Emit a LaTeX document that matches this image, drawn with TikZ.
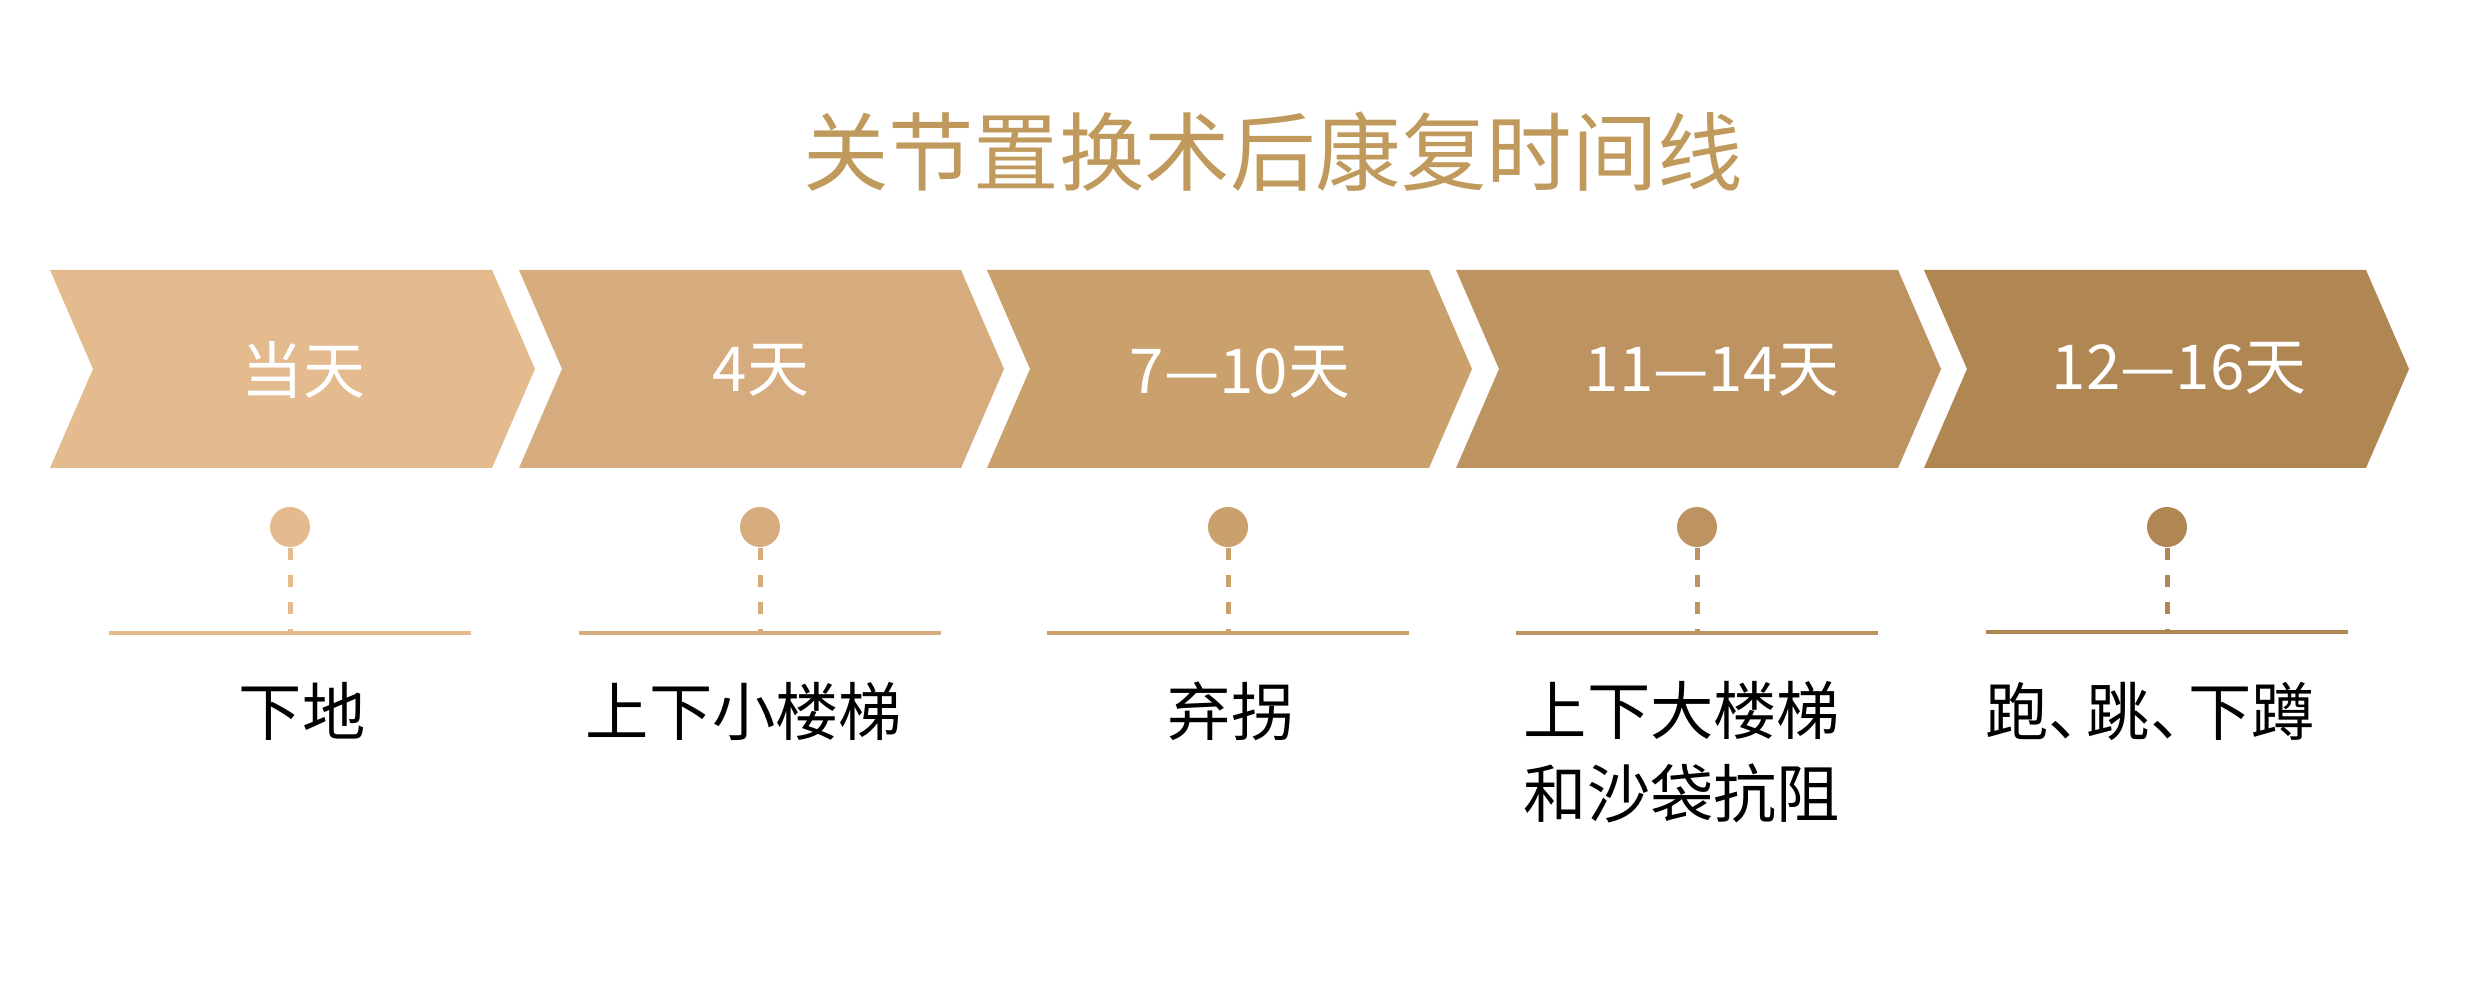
\documentclass[tikz,border=0pt]{standalone}
\usepackage{fontspec}
\setmainfont{Noto Sans CJK SC}
\definecolor{titlegold}{HTML}{C09A5C}
\definecolor{tone1}{HTML}{E4BB8E}
\definecolor{tone2}{HTML}{D6AC7E}
\definecolor{tone3}{HTML}{CAA06C}
\definecolor{tone4}{HTML}{BE9362}
\definecolor{tone5}{HTML}{B08653}
\begin{document}
\begin{tikzpicture}[x=0.01cm,y=-0.01cm,
  dot/.style={circle, fill, inner sep=0pt, minimum size=0.4cm},
  stem/.style={line width=0.05cm, dash pattern=on 0.12cm off 0.15cm},
  baseline/.style={line width=0.045cm},
  daylabel/.style={text=white, font=\fontsize{17.6}{21}\selectfont},
  tasklabel/.style={align=center, font=\fontsize{18}{23.6}\selectfont}]
\useasboundingbox (0,0) rectangle (2482,992);
\node[text=titlegold, font=\fontsize{24.3}{30}\selectfont] (title) at (1273,152){关节置换术后康复时间线};

% chevrons
\fill[tone1] (50,270) -- (492,270) -- (535,369) -- (492,468) -- (50,468) -- (93,369) -- cycle;
\fill[tone2] (519,270) -- (961,270) -- (1004,369) -- (961,468) -- (519,468) -- (562,369) -- cycle;
\fill[tone3] (987,270) -- (1429,270) -- (1472,369) -- (1429,468) -- (987,468) -- (1030,369) -- cycle;
\fill[tone4] (1456,270) -- (1898,270) -- (1941,369) -- (1898,468) -- (1456,468) -- (1499,369) -- cycle;
\fill[tone5] (1924,270) -- (2366,270) -- (2409,369) -- (2366,468) -- (1924,468) -- (1967,369) -- cycle;
\node[daylabel] (day1) at (303,370){当天};
\node[daylabel] (day2) at (761,370){4天};
\node[daylabel] (day3) at (1240,372){7—10天};
\node[daylabel] (day4) at (1712,370){11—14天};
\node[daylabel] (day5) at (2179,368){12—16天};

% markers
\node[dot, tone1] (pin1) at (290,527){};
\coordinate (foot1) at (290,633);
\draw[baseline, tone1] (109,633) -- (471,633);
\draw[stem, tone1] (pin1.south) -- (foot1);
\node[dot, tone2] (pin2) at (760,527){};
\coordinate (foot2) at (760,633);
\draw[baseline, tone2] (579,633) -- (941,633);
\draw[stem, tone2] (pin2.south) -- (foot2);
\node[dot, tone3] (pin3) at (1228,527){};
\coordinate (foot3) at (1228,633);
\draw[baseline, tone3] (1047,633) -- (1409,633);
\draw[stem, tone3] (pin3.south) -- (foot3);
\node[dot, tone4] (pin4) at (1697,527){};
\coordinate (foot4) at (1697,633);
\draw[baseline, tone4] (1516,633) -- (1878,633);
\draw[stem, tone4] (pin4.south) -- (foot4);
\node[dot, tone5] (pin5) at (2167,527){};
\coordinate (foot5) at (2167,632);
\draw[baseline, tone5] (1986,632) -- (2348,632);
\draw[stem, tone5] (pin5.south) -- (foot5);

\node[tasklabel] (task1) at (302,711){下地};
\node[tasklabel] (task2) at (744,711){上下小楼梯};
\node[tasklabel] (task3) at (1231,711){弃拐};
\node[tasklabel] (task4) at (1682,752){上下大楼梯\\和沙袋抗阻};
\node[tasklabel] (task5) at (2150,711){跑、\kern-0.4em 跳、\kern-0.4em 下蹲};

\end{tikzpicture}
\end{document}
